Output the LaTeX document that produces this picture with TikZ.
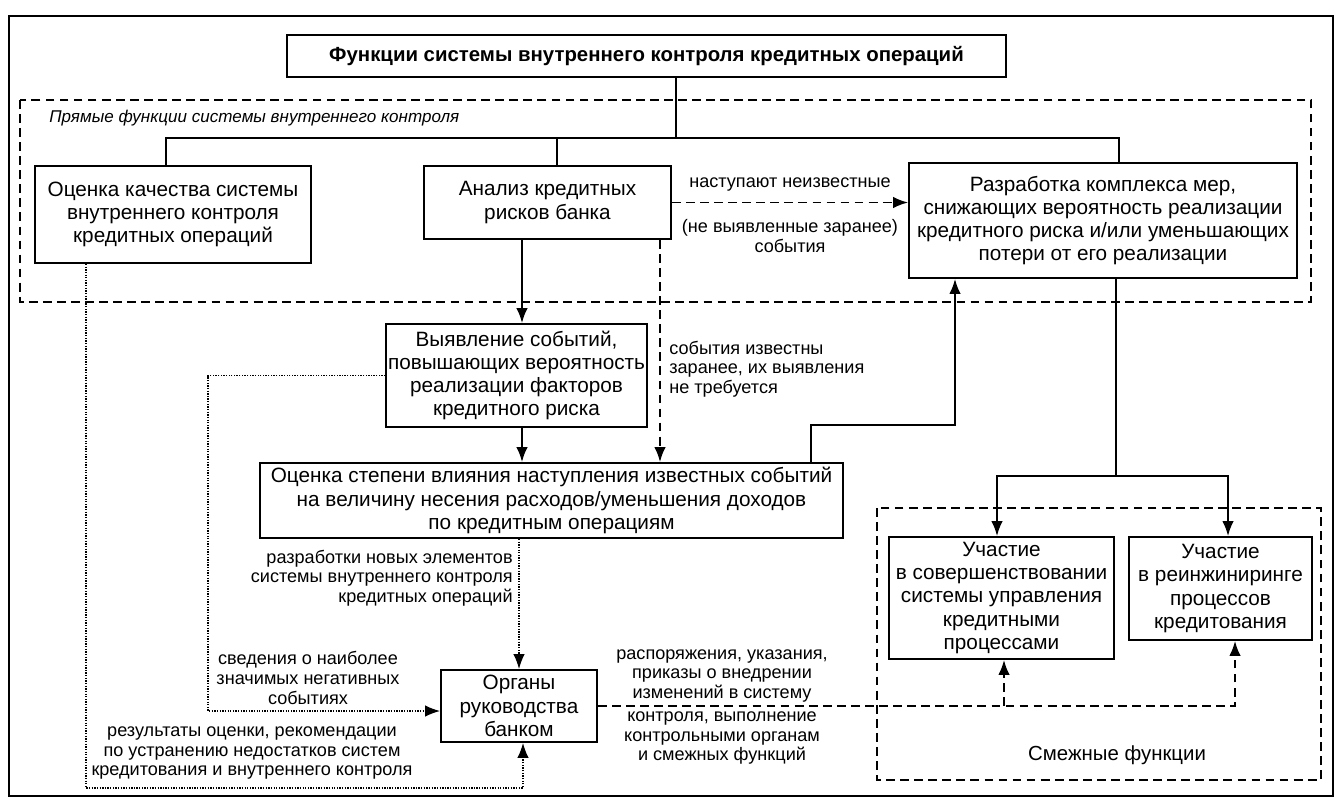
\documentclass[tikz,border=0pt]{standalone}
\usepackage{fontspec}
\setmainfont{Liberation Sans}
\usetikzlibrary{arrows.meta}

\begin{document}
\begin{tikzpicture}[x=0.02cm, y=-0.02cm,
  box/.style = {draw, line width=1.1pt, align=center, inner sep=1pt,
    font=\fontsize{11.8}{13.2}\selectfont},
  note/.style = {align=center, inner sep=0pt, font=\fontsize{10.3}{11.2}\selectfont},
  conn/.style = {line width=1pt},
  arr/.style = {conn, -{Latex[length=8.5pt,width=6.5pt]}},
  dasharr/.style = {arr, dash pattern=on 5pt off 3pt},
  dotarr/.style = {arr, line width=0.75pt, dash pattern=on 0.75pt off 0.75pt},
  frame/.style = {line width=0.9pt, dash pattern=on 5pt off 3pt}]
  \useasboundingbox (0,0) rectangle (1342,808);
  \draw[line width=1.4pt] (9,16) rectangle (1333,796);
  \draw[frame] (20,100) rectangle (1311,302);
  \draw[frame] (877,508) rectangle (1321,780);

  % boxes
  \node[box, minimum width=14.38cm, minimum height=0.84cm, font=\fontsize{11.6}{13}\selectfont\bfseries]
    (title) at (646.5,56) {Функции системы внутреннего контроля кредитных операций};
  \node[box, minimum width=5.52cm, minimum height=1.94cm] (qual) at (173,214.5)
    {Оценка качества системы\\внутреннего контроля\\кредитных операций};
  \node[box, minimum width=4.94cm, minimum height=1.46cm] (anal) at (547.5,202.5)
    {Анализ кредитных\\рисков банка};
  \node[box, minimum width=7.76cm, minimum height=2.3cm] (meas) at (1103,220.5)
    {Разработка комплекса мер,\\снижающих вероятность реализации\\кредитного риска и/или уменьшающих\\потери от его реализации};
  \node[box, minimum width=5.18cm, minimum height=2.06cm] (ident) at (516.5,375.5)
    {Выявление событий,\\повышающих вероятность\\реализации факторов\\кредитного риска};
  \node[box, minimum width=11.66cm, minimum height=1.5cm] (impact) at (551.5,500.5)
    {Оценка степени влияния наступления известных событий\\на величину несения расходов/уменьшения доходов\\по кредитным операциям};
  \node[box, minimum width=3.12cm, minimum height=1.44cm] (mgmt) at (519,706)
    {Органы\\руководства\\банком};
  \node[box, minimum width=4.5cm, minimum height=2.44cm] (impr) at (1001.5,598)
    {Участие\\в совершенствовании\\системы управления\\кредитными\\процессами};
  \node[box, minimum width=3.66cm, minimum height=2.06cm] (reeng) at (1220.5,588.5)
    {Участие\\в реинжиниринге\\процессов\\кредитования};

  % labels
  \node[note, anchor=west, font=\fontsize{9.7}{11}\selectfont\itshape] (direct) at (49,118)
    {Прямые функции системы внутреннего контроля};
  \node[note, font=\fontsize{11.6}{13}\selectfont] (adj) at (1117,755) {Смежные функции};
  \node[note] (unk) at (790,185) {наступают неизвестные};
  \node[note] (unk2) at (790,236) {(не выявленные заранее)\\события};
  \node[note, anchor=west, align=left] (known) at (669,369)
    {события известны\\заранее, их выявления\\не требуется};
  \node[note, anchor=east, align=right] (newel) at (513,578)
    {разработки новых элементов\\системы внутреннего контроля\\кредитных операций};
  \node[note] (neg) at (308,678) {сведения о наиболее\\значимых негативных\\событиях};
  \node[note] (res) at (252,753)
    {результаты оценки, рекомендации\\по устранению недостатков систем\\кредитования и внутреннего контроля};
  \node[note] (ord1) at (722,676) {распоряжения, указания,\\приказы о внедрении\\изменений в систему};
  \node[note] (ord2) at (722,738) {контроля, выполнение\\контрольными органам\\и смежных функций};

  % connectors
  \coordinate (bar) at (676,138);
  \draw[conn] (title.south -| bar) -- (bar);
  \draw[conn] (qual.north -| 166,0) |- (bar) -| (meas.north -| 1119,0);
  \draw[conn] (anal.north -| 557,0) |- (bar);
  \draw[dasharr] (anal.east) -- (anal.east -| meas.west);
  \draw[arr] (anal.south -| 522,0) -- (ident.north -| 522,0);
  \draw[dasharr] (anal.south -| 660,0) -- (impact.north -| 660,0);
  \draw[arr] (ident.south -| 522,0) -- (impact.north -| 522,0);
  \coordinate (turn) at (955,425);
  \draw[arr] (impact.north -| 811,0) |- (turn) -- (meas.south -| turn);
  \coordinate (split) at (1116,476);
  \draw[conn] (meas.south -| split) -- (split);
  \draw[arr] (split) -| (impr.north -| 997,0);
  \draw[arr] (split) -| (reeng.north -| 1228,0);
  \draw[dasharr] (mgmt.east) -| (reeng.south -| 1235,0);
  \draw[dasharr] (mgmt.east -| 1004,0) -- (impr.south -| 1004,0);
  \draw[dotarr] (impact.south -| mgmt.north) -- (mgmt.north);
  \coordinate (lnk) at (208,711);
  \draw[dotarr] (ident.west) -| (lnk) -- (mgmt.west |- lnk);
  \coordinate (loop) at (86,788);
  \draw[dotarr] (qual.south -| loop) -- (loop) -| (mgmt.south -| 523,0);
\end{tikzpicture}
\end{document}
